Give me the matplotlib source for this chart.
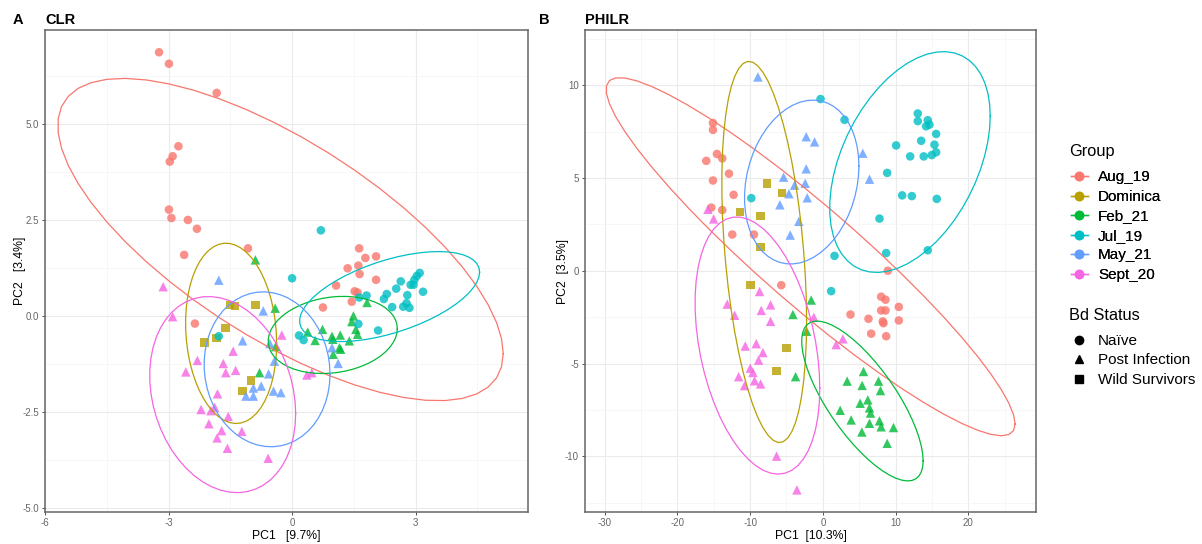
import numpy as np
import matplotlib
matplotlib.use("Agg")
import matplotlib.pyplot as plt
from matplotlib.lines import Line2D

plt.rcParams['font.family'] = ['Liberation Sans', 'DejaVu Sans']
plt.rcParams['axes.unicode_minus'] = False

# Groups, colours (ggplot hue palette) and Bd status shapes
groups = ["Aug_19", "Dominica", "Feb_21", "Jul_19", "May_21", "Sept_20"]
group_colors = ["#F8766D", "#B79F00", "#00BA38", "#00BFC4", "#619CFF", "#F564E3"]
statuses = ["Naïve", "Post Infection", "Wild Survivors"]
status_markers = ["o", "^", "s"]
group_status = ["Naïve", "Wild Survivors", "Post Infection", "Naïve", "Post Infection", "Post Infection"]

# CLR ordination scores (PC1, PC2)
clr_aug19 = [(-3.23, 6.88), (-2.99, 6.58), (-1.83, 5.82), (-2.76, 4.43), (-2.90, 4.17),
             (-2.97, 4.03), (-2.99, 2.78), (-2.93, 2.56), (-2.53, 2.51), (-2.31, 2.28),
             (-2.62, 1.60), (-1.07, 1.77), (-2.36, -0.19), (1.63, 1.77), (1.78, 1.52),
             (2.04, 1.56), (1.35, 1.25), (1.61, 1.32), (1.64, 1.10), (2.04, 0.95),
             (1.07, 0.80), (1.52, 0.65), (1.59, 0.62), (1.45, 0.38), (0.75, 0.23)]
clr_dominica = [(-1.51, 0.29), (-1.39, 0.27), (-0.89, 0.29), (-1.61, -0.30),
                (-1.84, -0.57), (-2.12, -0.69), (-1.00, -1.67), (-1.20, -1.95)]
clr_feb21 = [(-0.89, 1.47), (-0.41, 0.21), (1.82, 0.36), (1.49, 0.01), (1.45, -0.14),
             (0.74, -0.34), (0.38, -0.41), (0.56, -0.63), (0.97, -0.52), (1.17, -0.49),
             (0.99, -0.60), (1.55, -0.34), (1.59, -0.47), (1.39, -0.64), (1.15, -0.82),
             (1.18, -0.86), (1.00, -0.99), (-0.79, -1.47), (-0.40, -0.79)]
clr_jul19 = [(0.70, 2.24), (0.00, 0.99), (1.63, 0.49), (1.81, 0.54), (1.61, -0.20),
             (2.09, -0.37), (0.17, -0.50), (0.28, -0.62), (2.23, 0.45), (2.30, 0.58),
             (2.43, 0.24), (2.53, 0.72), (2.64, 0.91), (2.80, 0.55), (2.78, 0.34),
             (2.70, 0.25), (2.85, 0.22), (2.88, 0.82), (2.97, 0.95), (3.03, 1.05),
             (3.10, 1.13), (3.18, 0.64), (2.95, 0.82), (-1.78, -0.52)]
clr_may21 = [(-1.78, 0.94), (-0.70, 0.14), (-1.20, -0.64), (-0.54, -0.71), (-0.43, -1.17),
             (-0.57, -1.50), (-0.75, -1.82), (-0.94, -1.87), (-1.12, -2.08), (-0.94, -2.08),
             (-0.45, -1.95), (-0.27, -1.99), (0.97, -0.82), (1.12, -1.23)]
clr_sept20 = [(-3.13, 0.77), (-2.90, -0.01), (-0.25, -0.49), (-1.43, -0.91), (-1.67, -1.23),
              (-1.61, -1.47), (-1.37, -1.41), (-2.30, -1.15), (-2.58, -1.45), (-1.81, -2.02),
              (-2.21, -2.43), (-1.97, -2.46), (-1.88, -2.37), (-1.55, -2.61), (-2.02, -2.80),
              (-1.71, -2.98), (-1.82, -3.17), (-1.22, -3.00), (-1.57, -3.44), (-0.58, -3.70),
              (0.36, -1.53), (0.48, -1.47)]

# PhILR ordination scores (PC1, PC2)
philr_aug19 = [(-15.11, 7.96), (-15.11, 7.59), (-16.03, 5.92), (-14.56, 6.29), (-13.83, 6.05),
               (-12.91, 5.23), (-15.11, 4.86), (-12.27, 4.09), (-15.34, 3.40), (-13.83, 3.27),
               (-12.45, 1.95), (-9.48, 1.95), (-5.72, -0.78), (8.93, 0.00), (8.01, -1.40),
               (8.61, -1.56), (10.44, -1.95), (8.01, -2.14), (8.61, -2.14), (8.24, -2.73),
               (8.33, -2.83), (10.44, -2.68), (3.80, -2.36), (6.27, -2.59), (6.64, -3.39),
               (8.70, -3.53)]
philr_dominica = [(-7.65, 4.71), (-5.63, 4.19), (-11.40, 3.16), (-8.56, 2.94),
                  (-8.61, 1.28), (-9.94, -0.76), (-4.99, -4.17), (-6.36, -5.41)]
philr_feb21 = [(-1.60, -1.58), (-4.12, -2.36), (-2.24, -3.26), (-3.75, -5.71), (5.59, -5.43),
               (3.34, -5.95), (5.40, -6.18), (7.65, -5.95), (7.92, -6.46), (6.18, -6.96),
               (5.13, -7.14), (6.41, -7.39), (6.55, -7.67), (2.38, -7.52), (3.89, -8.04),
               (6.41, -8.22), (7.78, -8.09), (8.01, -8.41), (9.71, -8.45), (5.36, -8.69),
               (8.84, -9.30)]
philr_jul19 = [(-0.32, 9.25), (2.98, 8.13), (13.05, 8.47), (13.05, 8.06), (14.42, 8.11),
               (14.65, 7.87), (14.19, 7.78), (15.57, 7.37), (13.51, 7.00), (15.34, 6.79),
               (10.07, 6.75), (12.00, 6.16), (13.87, 6.16), (14.97, 6.23), (15.57, 6.38),
               (8.84, 5.27), (10.90, 4.06), (12.23, 4.02), (15.66, 3.87), (-9.84, 3.91),
               (7.78, 2.81), (8.70, 0.95), (14.42, 1.10), (1.60, 0.80), (1.14, -1.10)]
philr_may21 = [(-8.93, 10.44), (-2.29, 7.22), (-1.14, 6.94), (5.49, 6.33), (6.41, 4.93),
               (-2.29, 5.49), (-5.40, 5.04), (-3.89, 4.61), (-4.67, 4.15), (-2.43, 4.71),
               (-2.15, 3.93), (-5.91, 3.55), (-3.30, 2.66), (-4.49, 1.92)]
philr_sept20 = [(-15.80, 3.31), (-15.02, 2.79), (-8.70, -1.12), (-13.14, -1.80), (-12.13, -2.40),
                (-7.19, -1.84), (-8.47, -2.14), (-7.19, -2.73), (-1.24, -2.51), (2.75, -3.67),
                (1.83, -3.98), (-10.67, -4.06), (-9.16, -3.93), (-8.24, -4.41), (-8.84, -4.82),
                (-9.98, -5.25), (-9.61, -5.48), (-11.58, -5.71), (-10.76, -6.19), (-9.39, -5.93),
                (-8.56, -6.10), (-6.36, -9.99), (-3.57, -11.81)]

clr_groups = [clr_aug19, clr_dominica, clr_feb21, clr_jul19, clr_may21, clr_sept20]
philr_groups = [philr_aug19, philr_dominica, philr_feb21, philr_jul19, philr_may21, philr_sept20]

clr_xticks = [-6, -3, 0, 3]
clr_yticks = [-5.0, -2.5, 0.0, 2.5, 5.0]
philr_xticks = [-30, -20, -10, 0, 10, 20]
philr_yticks = [-10, -5, 0, 5, 10]


def cov_trob(xy, nu=5, maxit=25, tol=0.01):
    # multivariate t estimate of location and scatter (as in MASS::cov.trob)
    n, p = xy.shape
    loc = xy.mean(axis=0)
    w = np.ones(n)
    for _ in range(maxit):
        w0 = w
        X = xy - loc
        _, d, vt = np.linalg.svd(np.sqrt(w / w.sum())[:, None] * X, full_matrices=False)
        wX = X @ vt.T @ np.diag(1 / d)
        Q = (wX ** 2).sum(axis=1)
        w = (nu + p) / (nu + Q)
        loc = (w[:, None] * xy).sum(axis=0) / w.sum()
        if np.all(np.abs(w - w0) < tol):
            break
    sw = np.sqrt(w)[:, None] * X
    return loc, sw.T @ sw / n


def t_ellipse(xy, level=0.95, segments=51):
    center, shape = cov_trob(xy)
    dfd = len(xy) - 1
    fq = dfd / 2 * ((1 - level) ** (-2 / dfd) - 1)  # qf(level, 2, dfd)
    radius = np.sqrt(2 * fq)
    chol = np.linalg.cholesky(shape).T
    ang = np.linspace(0, 2 * np.pi, segments + 1)
    circle = np.column_stack([np.cos(ang), np.sin(ang)])
    return center + radius * circle @ chol


def draw_panel(ax, data, xlim, ylim, xticks, yticks, xminor, yminor, yfmt, xlabel, ylabel):
    for pts, col, status in zip(data, group_colors, group_status):
        xy = np.array(pts)
        marker = status_markers[statuses.index(status)]
        size = 46 if marker == "^" else 38
        ax.scatter(xy[:, 0], xy[:, 1], s=size, marker=marker, color=col, alpha=0.8,
                   edgecolors="none", zorder=3)
    for pts, col in zip(data, group_colors):
        ell = t_ellipse(np.array(pts))
        ax.plot(ell[:, 0], ell[:, 1], color=col, lw=0.9, zorder=4)
    ax.set_xlim(*xlim)
    ax.set_ylim(*ylim)
    ax.set_xticks(xticks)
    ax.set_yticks(yticks)
    ax.set_yticklabels([yfmt.format(v) for v in yticks])
    ax.set_xticks(xminor, minor=True)
    ax.set_yticks(yminor, minor=True)
    ax.grid(which="major", color="#EBEBEB", lw=0.8, zorder=0)
    ax.grid(which="minor", color="#F4F4F4", lw=0.5, zorder=0)
    ax.set_axisbelow(True)
    ax.tick_params(which="major", length=2.5, width=0.6, color="#333333",
                   labelsize=7, labelcolor="#666666", pad=2)
    ax.tick_params(which="minor", length=0)
    for sp in ax.spines.values():
        sp.set_color("#666666")
        sp.set_linewidth(1.1)
    ax.set_xlabel(xlabel, fontsize=8.8)
    ax.set_ylabel(ylabel, fontsize=8.8)


fig = plt.figure(figsize=(12.02, 5.44), dpi=100)
ax_a = fig.add_axes([45 / 1202, 1 - 512 / 544, 483 / 1202, 482 / 544])
ax_b = fig.add_axes([585 / 1202, 1 - 512 / 544, 451 / 1202, 482 / 544])

draw_panel(ax_a, clr_groups, (-6.0, 5.73), (-5.1, 7.46), clr_xticks, clr_yticks,
           [-4.5, -1.5, 1.5, 4.5], [-3.75, -1.25, 1.25, 3.75, 6.25],
           "{:.1f}", "PC1   [9.7%]", "PC2   [3.4%]")
draw_panel(ax_b, philr_groups, (-32.7, 29.3), (-13.0, 12.97), philr_xticks, philr_yticks,
           [-25, -15, -5, 5, 15, 25], [-12.5, -7.5, -2.5, 2.5, 7.5, 12.5],
           "{:g}", "PC1  [10.3%]", "PC2  [3.5%]")
ax_a.xaxis.set_label_coords(0.5, -18 / 482)
ax_b.xaxis.set_label_coords(0.5, -18 / 482)
ax_a.yaxis.set_label_coords(-18.5 / 483, 0.5)
ax_b.yaxis.set_label_coords(-16.3 / 451, 0.5)

fig.text(13 / 1202, 1 - 19.5 / 544, "A", fontsize=10.5, fontweight="bold", va="center")
fig.text(45 / 1202, 1 - 19.5 / 544, "CLR", fontsize=10.5, fontweight="bold", va="center")
fig.text(539 / 1202, 1 - 19.5 / 544, "B", fontsize=10.5, fontweight="bold", va="center")
fig.text(585 / 1202, 1 - 19.5 / 544, "PHILR", fontsize=10.5, fontweight="bold", va="center")

# legends: titles as text, keys as handle-only legends
fig.text(1069 / 1202, 1 - 151.5 / 544, "Group", fontsize=11.8, va="center")
fig.text(1069 / 1202, 1 - 315 / 544, "Bd Status", fontsize=11.8, va="center")
group_handles = [Line2D([0], [0], color=c, lw=1, marker="o", markersize=6, alpha=0.85)
                 for c in group_colors]
leg1 = fig.legend(group_handles, groups, loc="upper left", bbox_to_anchor=(1071 / 1202, 1 - 170.5 / 544),
                  frameon=False, fontsize=11.0, handlelength=1.09, handletextpad=0.68,
                  labelspacing=0.36, borderpad=0, borderaxespad=0)
status_handles = [Line2D([0], [0], color="black", lw=0, marker=m, markersize=6)
                  for m in status_markers]
leg2 = fig.legend(status_handles, statuses, loc="upper left", bbox_to_anchor=(1071 / 1202, 1 - 334 / 544),
                  frameon=False, fontsize=11.0, handlelength=1.09, handletextpad=0.68,
                  labelspacing=0.36, borderpad=0, borderaxespad=0)
fig.add_artist(leg1)

fig.savefig("out.png", dpi=100)
